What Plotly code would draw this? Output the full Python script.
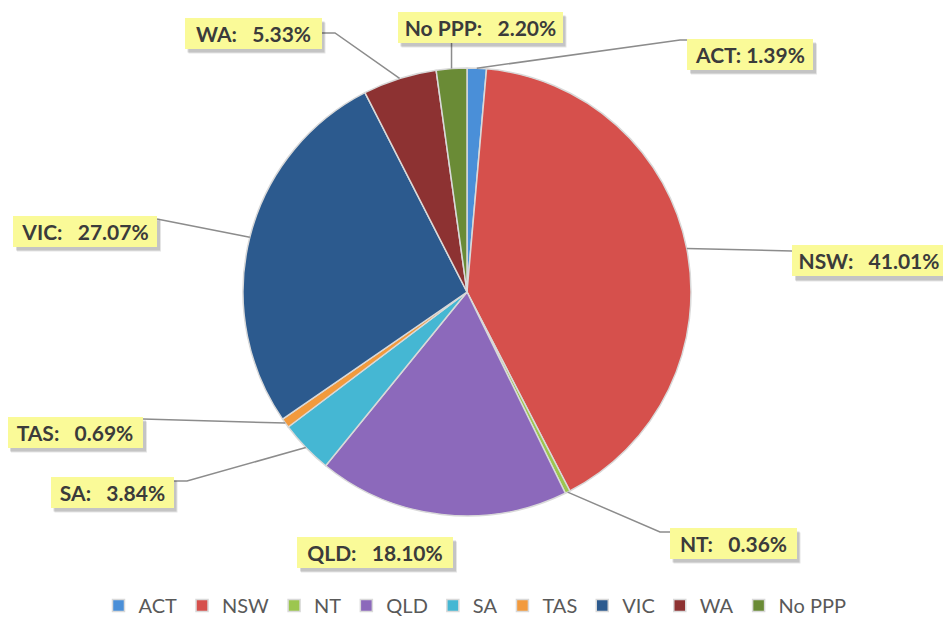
import math
import plotly.graph_objects as go

labels = ["ACT", "NSW", "NT", "QLD", "SA", "TAS", "VIC", "WA", "No PPP"]
values = [1.39, 41.01, 0.36, 18.10, 3.84, 0.69, 27.07, 5.33, 2.20]
colors = ["#4a8fd8", "#d6504c", "#9cc64f", "#8c69bb", "#45b7d3",
          "#f29a3d", "#2c5a8e", "#8d3232", "#6a8b36"]

W, H = 951, 618
OFF = 8  # page offset of the plot div
CX, CY, R = 467, 292, 224
BOX_H = 31

# label box centre x, centre y, width (px) -- layout only
label_box = {
    "ACT": (750, 54, 126), "NSW": (869, 261, 154), "NT": (733, 543, 127),
    "QLD": (375, 552, 156), "SA": (112, 492, 123), "TAS": (75, 432, 136),
    "VIC": (85, 231, 144), "WA": (253, 33, 137), "No PPP": (480, 27, 165),
}
line_end = {
    "ACT": [(680, 40), (687, 40)], "NSW": [(792, 251)], "NT": [(660, 532), (670, 532)],
    "QLD": None, "SA": [(187, 481), (174, 481)], "TAS": [(143, 419)],
    "VIC": [(157, 219)], "WA": [(335, 33), (322, 33)], "No PPP": [None],
}

def px(x, y):
    return (x - OFF) / W, 1 - (y - OFF) / H

x0, y1 = px(CX - R, CY - R)
x1, y0 = px(CX + R, CY + R)
fig = go.Figure(go.Pie(
    labels=labels, values=values, sort=False, direction="clockwise", rotation=0,
    marker=dict(colors=colors, line=dict(color="#d9d9d9", width=1.5)),
    textinfo="none", hoverinfo="label+percent",
    domain=dict(x=[x0, x1], y=[y0, y1]),
))

total = sum(values)
cum = 0.0
shapes, annotations = [], []
font = dict(family="Lato, Open Sans, sans-serif", size=21, color="#3b3b3b")
PAD = 4
for lab, v in zip(labels, values):
    mid = (cum + v / 2) / total * 2 * math.pi
    cum += v
    ex, ey = CX + R * math.sin(mid), CY - R * math.cos(mid)
    bx, by, bw = label_box[lab]
    pts = line_end[lab]
    if pts is not None:
        if pts == [None]:
            pts = [(ex, by + BOX_H / 2)]
        path = "M {} {}".format(*px(ex, ey))
        for p in pts:
            path += " L {} {}".format(*px(*p))
        shapes.append(dict(type="path", xref="paper", yref="paper", path=path,
                           line=dict(color="#8c8c8c", width=1.5)))
    # soft drop shadow
    for k, (dx, dy, a) in enumerate([(4, 5, 0.10), (3, 4, 0.14)]):
        sx0, sy0 = px(bx - bw / 2 + dx, by + BOX_H / 2 + dy)
        sx1, sy1 = px(bx + bw / 2 + dx, by - BOX_H / 2 + dy)
        shapes.append(dict(type="rect", xref="paper", yref="paper",
                           x0=sx0, x1=sx1, y0=sy0, y1=sy1, layer="above",
                           fillcolor=f"rgba(0,0,0,{a})", line=dict(width=0)))
    if lab == "ACT":
        txt = f"<b>{lab}: {v:.2f}%</b>"
    else:
        txt = f"<b>{lab}:\u00a0\u00a0\u00a0{v:.2f}%</b>"
    x, y = px(bx, by)
    annotations.append(dict(x=x, y=y, xref="paper", yref="paper", text=txt, showarrow=False,
                            xanchor="center", yanchor="middle", borderpad=PAD, borderwidth=0,
                            width=bw - 2 * PAD, height=BOX_H - 2 * PAD, align="center",
                            font=font, bgcolor="#fafa98"))

lx, ly = px(475, 625)
fig.update_layout(
    width=W, height=H, margin=dict(l=0, r=0, t=0, b=0, autoexpand=False),
    paper_bgcolor="white", plot_bgcolor="white",
    shapes=shapes, annotations=annotations,
    showlegend=True,
    legend=dict(orientation="h", x=lx, xanchor="center", y=ly, yanchor="bottom",
                font=dict(family="Lato, Open Sans, sans-serif", size=20, color="#595959"),
                itemclick=False, traceorder="normal", itemwidth=30),
)
fig.write_html("out.html")
